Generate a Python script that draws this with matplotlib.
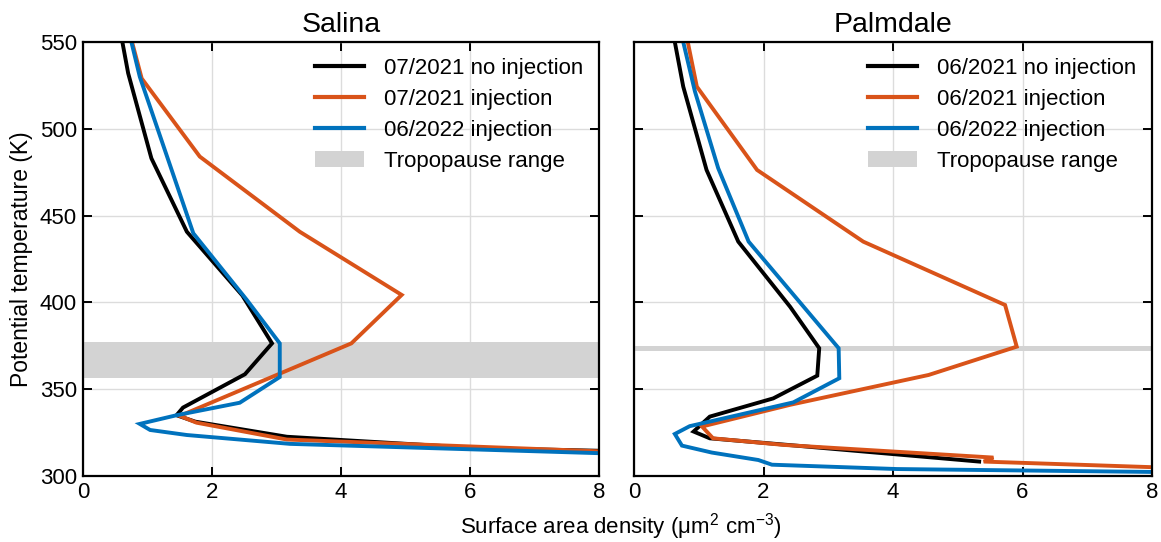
import matplotlib
matplotlib.use("Agg")
import matplotlib.pyplot as plt
from matplotlib.patches import Patch
from matplotlib.lines import Line2D

plt.rcParams['font.family'] = ['Liberation Sans', 'DejaVu Sans']

# ---- Salina ----
sal_noinj_x = [0.61, 0.70, 1.06, 1.61, 2.47, 2.93, 2.51, 1.55, 1.45, 1.74, 3.16, 6.15, 8.3]
sal_noinj_y = [550, 532, 483, 440.7, 404, 376.4, 358.6, 339.4, 335, 331.3, 322.6, 316, 314.3]
sal_inj_x = [0.76, 0.91, 1.81, 3.36, 4.94, 4.16, 1.50, 1.76, 3.16, 8.3]
sal_inj_y = [550, 529, 484, 440.7, 404.3, 376.4, 334.6, 330.7, 321, 313.8]
sal_22_x = [0.75, 0.88, 1.71, 2.54, 3.05, 3.05, 2.43, 1.45, 0.88, 1.04, 1.61, 3.21, 8.3]
sal_22_y = [550, 530, 439.8, 401.4, 376.4, 357, 342.2, 335, 330, 326.5, 323.6, 318.5, 312.8]
sal_trop = (356.5, 377.0)

# ---- Palmdale ----
pal_noinj_x = [0.63, 0.76, 1.12, 1.61, 2.41, 2.86, 2.83, 2.15, 1.17, 0.92, 1.17, 2.31, 5.33]
pal_noinj_y = [550, 524.3, 476.3, 435, 397.5, 373.6, 357.8, 344.7, 334.2, 325.6, 321.7, 318.1, 308.3]
pal_inj_x = [0.83, 0.97, 1.90, 3.54, 5.73, 5.91, 4.55, 2.41, 1.05, 1.22, 2.31, 5.55, 5.40, 8.3]
pal_inj_y = [550, 524.3, 476.3, 435, 398.5, 374.5, 358.2, 341, 328.5, 321.7, 317.9, 310.6, 308.3, 304.7]
pal_22_x = [0.76, 0.94, 1.30, 1.77, 3.16, 3.17, 2.46, 0.86, 0.63, 0.74, 1.20, 1.92, 2.13, 4.06, 8.3]
pal_22_y = [550, 521.6, 477.3, 435, 373.6, 356.3, 342.4, 328.7, 324.2, 317.5, 313.5, 309.2, 306.5, 304, 302.2]
pal_trop = (372.1, 374.9)

sal_labels = ["07/2021 no injection", "07/2021 injection", "06/2022 injection", "Tropopause range"]
pal_labels = ["06/2021 no injection", "06/2021 injection", "06/2022 injection", "Tropopause range"]

C_BLACK = "#000000"
C_ORANGE = "#D95319"
C_BLUE = "#0072BD"
C_TROP = "#D3D3D3"

fig = plt.figure(figsize=(11.61, 5.42), dpi=100)
axL = fig.add_axes([0.0715, 0.1218, 0.4445, 0.8007])
axR = fig.add_axes([0.5461, 0.1218, 0.4462, 0.8007])

def draw(ax, series, trop, labels, title, ylab):
    ax.axhspan(trop[0], trop[1], color=C_TROP, lw=0, zorder=1)
    for (x, y), c in zip(series, [C_BLACK, C_ORANGE, C_BLUE]):
        ax.plot(x, y, color=c, lw=2.8, zorder=3, solid_joinstyle='miter')
    ax.set_xlim(0, 8)
    ax.set_ylim(300, 550)
    ax.set_xticks([0, 2, 4, 6, 8])
    ax.set_yticks([300, 350, 400, 450, 500, 550])
    ax.grid(True, color="#DCDCDC", lw=1.0, zorder=0)
    ax.set_axisbelow(True)
    ax.tick_params(direction='in', top=True, right=True, length=6.5, width=1.4,
                   labelsize=16, pad=4.5)
    for s in ax.spines.values():
        s.set_linewidth(1.6)
        s.set_zorder(5)
    ax.set_title(title, fontsize=20.5, pad=7)
    if ylab:
        ax.set_ylabel("Potential temperature (K)", fontsize=16.5, labelpad=5)
    else:
        ax.set_yticklabels([])
    handles = [Line2D([0], [0], color=C_BLACK, lw=3),
               Line2D([0], [0], color=C_ORANGE, lw=3),
               Line2D([0], [0], color=C_BLUE, lw=3),
               Patch(facecolor=C_TROP, edgecolor='none')]
    ax.legend(handles, labels, loc='upper right', frameon=False, fontsize=16,
              handlelength=2.2, handletextpad=0.9, labelspacing=0.45,
              borderaxespad=0.3, borderpad=0.4)

draw(axL, [(sal_noinj_x, sal_noinj_y), (sal_inj_x, sal_inj_y), (sal_22_x, sal_22_y)],
     sal_trop, sal_labels, "Salina", True)
draw(axR, [(pal_noinj_x, pal_noinj_y), (pal_inj_x, pal_inj_y), (pal_22_x, pal_22_y)],
     pal_trop, pal_labels, "Palmdale", False)

fig.text(0.535, 0.016, r"Surface area density ($\mathregular{\mu m^{2}\ cm^{-3}}$)",
         ha='center', va='baseline', fontsize=16)

fig.savefig("out.png", dpi=100)
